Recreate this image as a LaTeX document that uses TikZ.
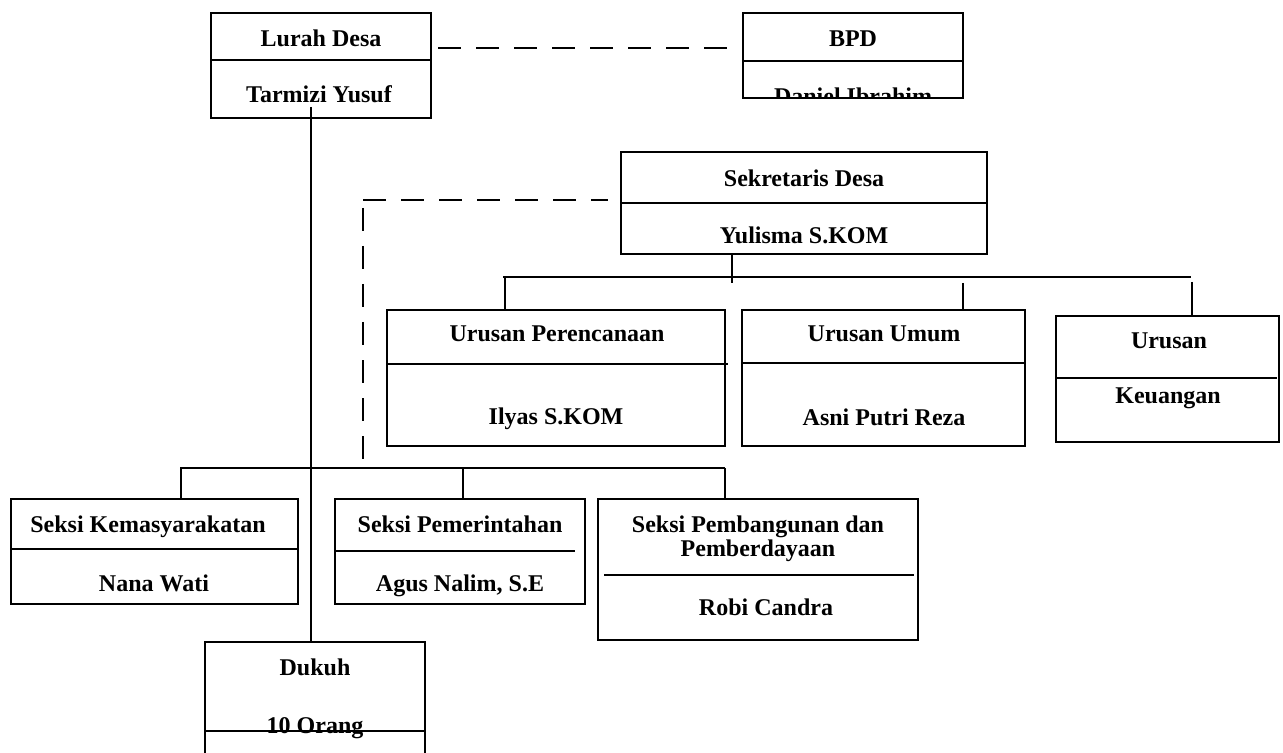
\documentclass[tikz,border=0pt]{standalone}
\usepackage{fontspec}
\setmainfont{Liberation Serif}
\usepackage{tikz}
\usetikzlibrary{calc}
\usetikzlibrary{fit}
\usetikzlibrary{positioning}

\begin{document}
\begin{tikzpicture}[-,x=0.5pt,y=-0.5pt,line width=1pt,
                    box node/.style={draw,inner sep=0pt,outer sep=0pt},
                    name node/.style={font=\fontsize{12}{14}\selectfont\bfseries,anchor=base,inner sep=0pt},
                    dash line/.style={dash pattern=on 11.5pt off 7.5pt}]
\useasboundingbox (0,0) rectangle (1283,753);

\begin{scope}
\clip (743,13) rectangle (963,98);
\node[name node] (BpdName) at (853,105) {Daniel Ibrahim};
\end{scope}

\node[box node,fit={(211,13) (431,118)}] (LurahBox) {};
\node[box node,fit={(743,13) (963,98)}] (BpdBox) {};
\node[box node,fit={(621,152) (987,254)}] (SekdesBox) {};
\node[box node,fit={(387,310) (725,446)}] (PerencanaanBox) {};
\node[box node,fit={(742,310) (1025,446)}] (UmumBox) {};
\node[box node,fit={(1056,316) (1279,442)}] (KeuanganBox) {};
\node[box node,fit={(11,499) (298,604)}] (KemasyBox) {};
\node[box node,fit={(335,499) (585,604)}] (PemerintahanBox) {};
\node[box node,fit={(598,499) (918,640)}] (PembangunanBox) {};
\node[box node,fit={(205,642) (425,800)}] (DukuhBox) {};

\draw (211,60) -- (431,60);
\draw (743,61) -- (963,61);
\draw (621,203) -- (987,203);
\draw (387,364) -- (728,364);
\draw (742,363) -- (1025,363);
\draw (1056,378) -- (1277,378);
\draw (11,549) -- (298,549);
\draw (336,551) -- (575,551);
\draw (604,575) -- (914,575);
\draw (205,731) -- (425,731);

\node[name node] (LurahTitle) at (321,47) {Lurah Desa};
\node[name node] (LurahName) at (319,103) {Tarmizi Yusuf};
\node[name node] (BpdTitle) at (853,47) {BPD};
\node[name node] (SekdesTitle) at (804,187) {Sekretaris Desa};
\node[name node] (SekdesName) at (804,244) {Yulisma S.KOM};
\node[name node] (PerencanaanTitle) at (557,342) {Urusan Perencanaan};
\node[name node] (PerencanaanName) at (556,424) {Ilyas S.KOM};
\node[name node] (UmumTitle) at (884,342) {Urusan Umum};
\node[name node] (UmumName) at (884,425) {Asni Putri Reza};
\node[name node] (KeuanganTitle) at (1169,349) {Urusan};
\node[name node] (KeuanganName) at (1168,403) {Keuangan};
\node[name node] (KemasyTitle) at (148,532) {Seksi Kemasyarakatan};
\node[name node] (KemasyName) at (154,591) {Nana Wati};
\node[name node] (PemerintahanTitle) at (460,532) {Seksi Pemerintahan};
\node[name node] (PemerintahanName) at (460,591) {Agus Nalim, S.E};
\node[name node] (PembangunanTitleA) at (758,532) {Seksi Pembangunan dan};
\node[name node] (PembangunanTitleB) at (758,556) {Pemberdayaan};
\node[name node] (PembangunanName) at (766,615) {Robi Candra};
\node[name node] (DukuhTitle) at (315,675) {Dukuh};
\node[name node] (DukuhName) at (315,733) {10 Orang};

\coordinate (LurahStem) at (311,107);
\draw (LurahStem) -- (LurahStem |- DukuhBox.north);

\coordinate (BpdDashL) at (438,48);
\coordinate (BpdDashR) at (732,48);
\draw[dash line] (BpdDashL) -- (BpdDashR);

\coordinate (SekdesDashR) at (608,200);
\coordinate (SekdesDashL) at (363,200);
\coordinate (SekdesDashTop) at (363,208);
\coordinate (SekdesDashEnd) at (363,463);
\draw[dash line] (SekdesDashL) -- (SekdesDashR);
\draw[dash line] (SekdesDashTop) -- (SekdesDashEnd);

\coordinate (SekdesStem) at (732,254);
\coordinate (UrusanBusL) at (503,277);
\coordinate (UrusanBusR) at (1191,277);
\draw (SekdesStem) -- (732,283);
\draw (UrusanBusL) -- (UrusanBusR);
\foreach \x/\y/\b in {505/277/PerencanaanBox,963/283/UmumBox,1192/282/KeuanganBox}
   \draw (\x,\y) -- (\b.north -| \x,0);

\coordinate (SeksiBusL) at (180,468);
\coordinate (SeksiBusR) at (725,468);
\draw (SeksiBusL) -- (SeksiBusR);
\foreach \x/\b in {181/KemasyBox,463/PemerintahanBox,725/PembangunanBox}
   \draw (\x,468) -- (\b.north -| \x,0);

\end{tikzpicture}
\end{document}
